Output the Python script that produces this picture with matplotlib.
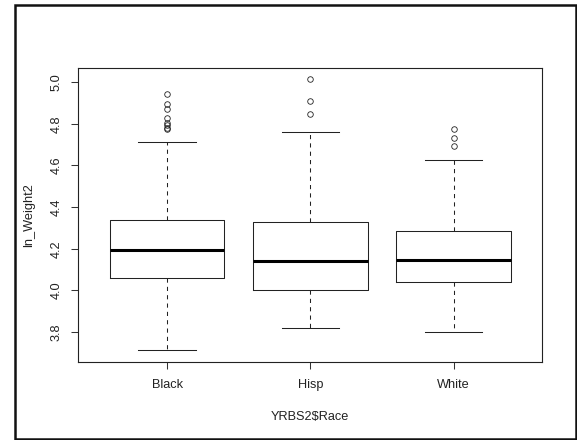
import matplotlib
matplotlib.use("Agg")
import matplotlib.pyplot as plt
from matplotlib.patches import Rectangle

plt.rcParams['font.family'] = ['Liberation Sans', 'DejaVu Sans']

categories = ["Black", "Hisp", "White"]
whisker_low = [3.712, 3.820, 3.798]
q1 = [4.058, 4.000, 4.040]
medians = [4.194, 4.141, 4.144]
q3 = [4.338, 4.327, 4.285]
whisker_high = [4.713, 4.761, 4.625]
outliers = [
    [4.942, 4.894, 4.870, 4.827, 4.806, 4.793, 4.782, 4.774],
    [5.014, 4.912, 4.846],
    [4.775, 4.732, 4.694],
]
y_ticks = [3.8, 4.0, 4.2, 4.4, 4.6, 4.8, 5.0]
x_label = "YRBS2$Race"
y_label = "ln_Weight2"

W, H, DPI = 577, 440, 100
fig = plt.figure(figsize=(W / DPI, H / DPI), dpi=DPI)
ax = fig.add_axes([78.3 / W, 1 - 361.7 / H, (542.3 - 78.3) / W, (361.7 - 68.3) / H])

stats = []
for i, c in enumerate(categories):
    stats.append(dict(label=c, whislo=whisker_low[i], q1=q1[i], med=medians[i],
                      q3=q3[i], whishi=whisker_high[i], fliers=outliers[i]))

lw = 0.75
ax.bxp(stats, positions=[1, 2, 3], widths=0.8, capwidths=0.4,
       showfliers=True, patch_artist=False,
       boxprops=dict(color='#222222', linewidth=lw),
       medianprops=dict(color='black', linewidth=2.2, solid_capstyle='butt'),
       whiskerprops=dict(color='#222222', linewidth=lw, linestyle=(0, (4, 4))),
       capprops=dict(color='#222222', linewidth=lw),
       flierprops=dict(marker='o', markerfacecolor='none', markeredgecolor='#222222',
                       markersize=4, markeredgewidth=0.6, linestyle='none'))

fs = 9.2
ax.set_xlim(0.38, 3.62)
ax.set_ylim(3.657, 5.067)
ax.set_yticks(y_ticks)
ax.set_yticklabels([f"{v:.1f}" for v in y_ticks], rotation=90, va='center')
ax.set_xticks([1, 2, 3])
ax.set_xticklabels(categories)
ax.tick_params(axis='both', direction='out', length=5.2, width=0.75, color='#333333',
               labelsize=fs, labelcolor='#222222')
ax.tick_params(axis='x', pad=7.5)
ax.tick_params(axis='y', pad=6)
for s in ax.spines.values():
    s.set_linewidth(0.8)
    s.set_color('#222222')

ax.set_xlabel(x_label, fontsize=fs, color='#222222', labelpad=14)
ax.set_ylabel(y_label, fontsize=fs, color='#222222', labelpad=11)

# outer frame
fig.patches.append(Rectangle((15 / W, 1 - 438.5 / H), (575.5 - 15) / W, (438.5 - 5) / H,
                             transform=fig.transFigure, fill=False,
                             edgecolor='#111111', linewidth=1.8))

fig.savefig("out.png", dpi=DPI)
